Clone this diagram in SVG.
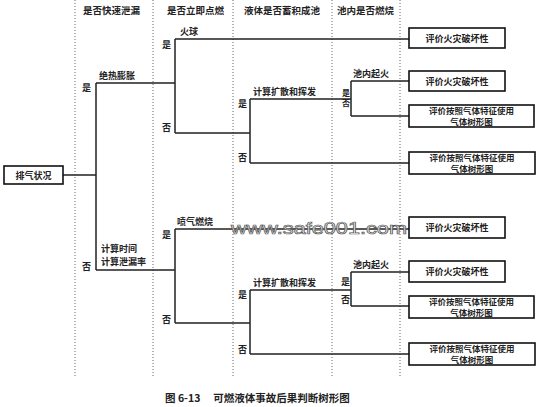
<svg xmlns="http://www.w3.org/2000/svg" width="542" height="407" viewBox="0 0 542 407">
<style>
.t{font-family:"Noto Sans CJK SC","Liberation Sans",sans-serif;font-weight:bold;fill:#222;}
.h{font-size:9.5px;}
.s{font-size:9px;}
.y{font-size:8px;}
.b{font-size:9px;text-anchor:middle;}
.b2{font-size:8.5px;text-anchor:middle;}
.ln{stroke:#222;stroke-width:1.5;fill:none;}
.bx{stroke:#111;stroke-width:1.6;fill:#fff;}
.dot{stroke:#666;stroke-width:1;stroke-dasharray:1 2;}
</style>
<rect width="542" height="407" fill="#fff"/>
<g id="grid">
<line class="dot" x1="75" y1="0" x2="75" y2="377"/>
<line class="dot" x1="153" y1="0" x2="153" y2="377"/>
<line class="dot" x1="233" y1="0" x2="233" y2="377"/>
<line class="dot" x1="332" y1="0" x2="332" y2="377"/>
<line class="dot" x1="400" y1="0" x2="400" y2="377"/>
</g>
<g id="headers">
<text class="t h" x="83" y="14">是否快速泄漏</text>
<text class="t h" x="167" y="14">是否立即点燃</text>
<text class="t h" x="244" y="14">液体是否蓄积成池</text>
<text class="t h" x="337" y="14">池内是否燃烧</text>
</g>
<g id="connectors">
<path class="ln" d="M63 175H96M96 83V270M96 83H175M96 270H175"/>
<path class="ln" d="M175 39V133M175 39H409M175 133H250M250 99V163M250 99H351M250 163H409M351 81V116M351 81H409M351 116H409"/>
<path class="ln" d="M175 229V323M175 229H409M175 323H250M250 290V354M250 290H351M250 354H409M351 272V306M351 272H409M351 306H409"/>
</g>
<g id="labels">
<text class="t s" x="99" y="79">绝热膨胀</text>
<text class="t s" x="82" y="91">是</text>
<text class="t s" x="101" y="252">计算时间</text>
<text class="t s" x="101" y="265">计算泄漏率</text>
<text class="t s" x="82" y="270">否</text>
<text class="t s" x="180" y="35">火球</text>
<text class="t s" x="162" y="48">是</text>
<text class="t s" x="162" y="131">否</text>
<text class="t s" x="253" y="95">计算扩散和挥发</text>
<text class="t s" x="238" y="107">是</text>
<text class="t s" x="238" y="161">否</text>
<text class="t s" x="353" y="77">池内起火</text>
<text class="t y" x="342" y="96">是</text>
<text class="t y" x="342" y="106">否</text>
<text class="t s" x="177" y="225">喷气燃烧</text>
<text class="t s" x="162" y="238">是</text>
<text class="t s" x="162" y="323">否</text>
<text class="t s" x="253" y="286">计算扩散和挥发</text>
<text class="t s" x="238" y="298">是</text>
<text class="t s" x="238" y="353">否</text>
<text class="t s" x="353" y="268">池内起火</text>
<text class="t s" x="341" y="285">是</text>
<text class="t s" x="341" y="303">否</text>
</g>
<g id="root">
<rect class="bx" x="4" y="166" width="59" height="18"/>
<text class="t b" x="33.5" y="178.5">排气状况</text>
</g>
<g id="n1"><rect class="bx" x="409" y="28" width="96" height="20"/><text class="t b" x="457" y="41.5">评价火灾破坏性</text></g>
<g id="n2"><rect class="bx" x="409" y="71" width="96" height="20"/><text class="t b" x="457" y="84.5">评价火灾破坏性</text></g>
<g id="n3"><rect class="bx" x="409" y="105" width="125" height="22"/><text class="t b2" x="471.5" y="114">评价按照气体特征使用</text><text class="t b2" x="471.5" y="124.5">气体树形图</text></g>
<g id="n4"><rect class="bx" x="409" y="152" width="126" height="22"/><text class="t b2" x="472" y="161">评价按照气体特征使用</text><text class="t b2" x="472" y="171.5">气体树形图</text></g>
<g id="n5"><rect class="bx" x="409" y="217" width="96" height="21"/><text class="t b" x="457" y="231">评价火灾破坏性</text></g>
<g id="n6"><rect class="bx" x="409" y="261" width="96" height="21"/><text class="t b" x="457" y="275">评价火灾破坏性</text></g>
<g id="n7"><rect class="bx" x="409" y="296" width="125" height="22"/><text class="t b2" x="471.5" y="305">评价按照气体特征使用</text><text class="t b2" x="471.5" y="315.5">气体树形图</text></g>
<g id="n8"><rect class="bx" x="409" y="343" width="126" height="22"/><text class="t b2" x="472" y="352">评价按照气体特征使用</text><text class="t b2" x="472" y="362.5">气体树形图</text></g>
<text x="231" y="234" font-family="Liberation Sans,sans-serif" font-size="17" fill="#f4f4f4" stroke="#555" stroke-width="0.7" textLength="176" lengthAdjust="spacingAndGlyphs">www.safe001.com</text>
<text class="t" x="165" y="402" font-size="10.5px">图 6-13　 可燃液体事故后果判断树形图</text>
</svg>
